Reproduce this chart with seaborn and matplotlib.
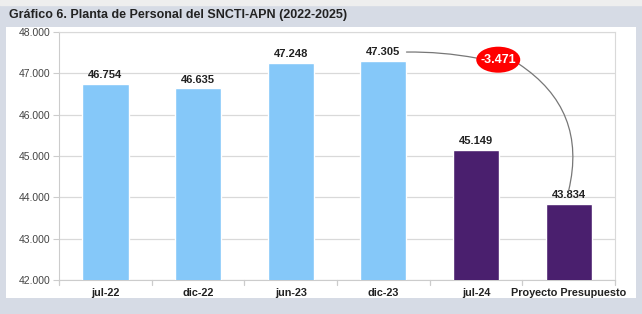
import numpy as np
import pandas as pd
import matplotlib.pyplot as plt
import matplotlib.patches as mpatches
import matplotlib.transforms as mtransforms
import seaborn as sns

categories = ['jul-22', 'dic-22', 'jun-23', 'dic-23', 'jul-24', 'Proyecto Presupuesto']
values = [46754, 46635, 47248, 47305, 45149, 43834]
bar_colors = ['#85c8f9', '#85c8f9', '#85c8f9', '#85c8f9', '#4a1f6e', '#4a1f6e']
diff_label = '-3.471'
title = 'Gráfico 6. Planta de Personal del SNCTI-APN (2022-2025)'

def fmt(v):
    return f'{v:,.0f}'.replace(',', '.')

df = pd.DataFrame({'cat': categories, 'val': values})

sns.set_style('white')
plt.rcParams['font.family'] = ['Liberation Sans', 'DejaVu Sans']

fig = plt.figure(figsize=(6.42, 3.14), dpi=100, facecolor='#d6dbe5')
# outer light frame + white panel
fig.patches.append(mpatches.Rectangle((0, 0.985), 1, 0.015, transform=fig.transFigure, color='#eeeeee', zorder=-2))
fig.patches.append(mpatches.Rectangle((6/642, 16/314), 630/642, 271/314, transform=fig.transFigure,
                                      facecolor='white', edgecolor='none', zorder=-2))
fig.text(9/642, 1 - 15/314, title, fontsize=9, fontweight='bold', va='center', ha='left',
         color='#222222', family=['Liberation Sans Narrow', 'Liberation Sans', 'DejaVu Sans'])

ax = fig.add_axes([59/642, 34/314, 556/642, 248/314])
ax.set_facecolor('white')
sns.barplot(data=df, x='cat', y='val', hue='cat', palette=bar_colors, saturation=1, width=0.5,
            legend=False, ax=ax, zorder=3)
ax.set_ylim(42000, 48000)
ax.set_xlim(-0.5, 5.5)
ax.set_yticks(np.arange(42000, 48001, 1000))
ax.set_yticklabels([fmt(v) for v in np.arange(42000, 48001, 1000)], fontsize=7.5, color='#444444')
ax.grid(axis='y', color='#d9d9d9', linewidth=0.9, zorder=0)
ax.set_xlabel('')
ax.set_ylabel('')
ax.tick_params(axis='x', length=0, pad=6)
ax.tick_params(axis='y', length=4, color='#cccccc', pad=2, left=True)
for lbl in ax.get_xticklabels():
    lbl.set_fontweight('bold')
    lbl.set_fontsize(7.8)
    lbl.set_color('#222222')
for side in ['top', 'right']:
    ax.spines[side].set_visible(True)
    ax.spines[side].set_color('#d9d9d9')
ax.spines['left'].set_color('#cccccc')
ax.spines['bottom'].set_color('#cccccc')
# category separator ticks below axis
for b in np.arange(-0.5, 6, 1):
    ax.plot([b, b], [0, -0.02], transform=ax.get_xaxis_transform(), color='#cccccc', lw=0.9, clip_on=False)

for i, v in enumerate(values):
    ax.text(i, v + 90, fmt(v), ha='center', va='bottom', fontsize=8, fontweight='bold', color='#222222', zorder=4)

# difference annotation: red ellipse (44x26 px) centred on a data point
ex, ey = 4.24, 47330
ell_tr = fig.dpi_scale_trans + mtransforms.ScaledTranslation(ex, ey, ax.transData)
ax.add_patch(mpatches.Ellipse((0, 0), 0.44, 0.26, transform=ell_tr, facecolor='#ff0000',
                              edgecolor='none', zorder=6, clip_on=False))
ax.text(ex, ey, diff_label, ha='center', va='center', fontsize=9, fontweight='bold', color='white', zorder=7)
ax.annotate('', xy=(ex - 0.235, ey + 40), xytext=(3.25, values[3] + 210),
            arrowprops=dict(arrowstyle='-', color='#777777', lw=0.9, connectionstyle='arc3,rad=-0.05',
                            shrinkA=0, shrinkB=0), zorder=5)
ax.annotate('', xy=(5, values[5] + 330), xytext=(ex + 0.22, ey - 100),
            arrowprops=dict(arrowstyle='-', color='#777777', lw=0.9, connectionstyle='arc3,rad=-0.35',
                            shrinkA=0, shrinkB=0), zorder=5)

fig.savefig('out.png', dpi=100, facecolor=fig.get_facecolor())
